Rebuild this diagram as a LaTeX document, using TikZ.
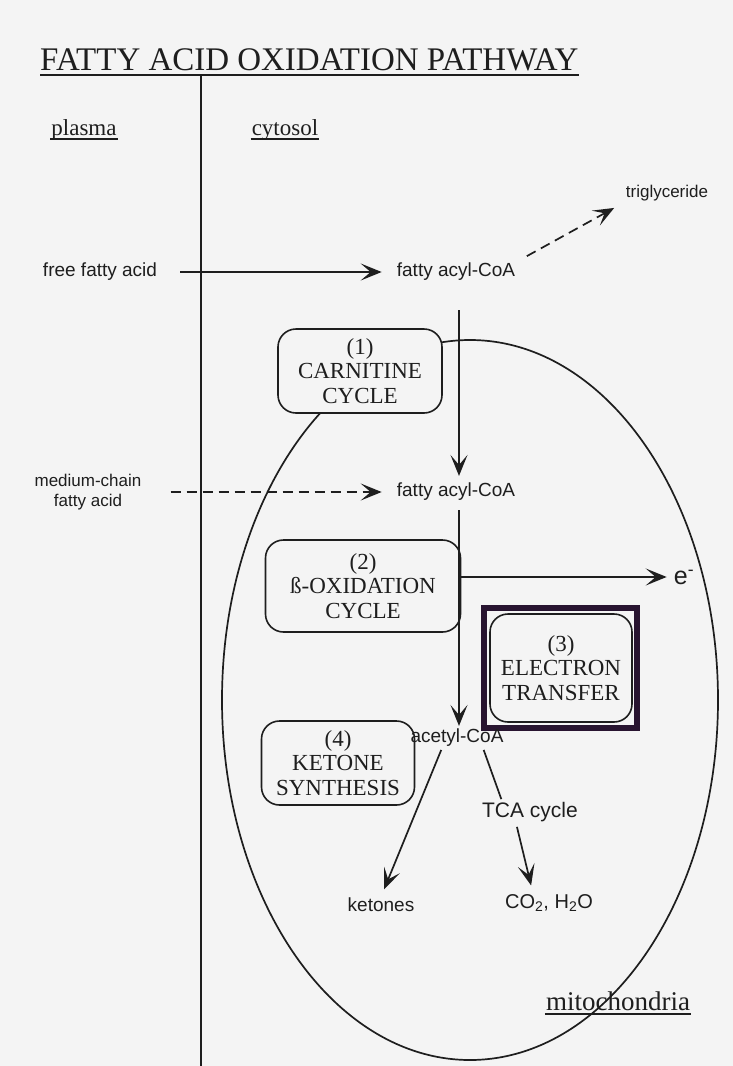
\documentclass[tikz,border=0pt]{standalone}
\usepackage{fontspec}
\setmainfont{Liberation Serif}
\setsansfont{Liberation Sans}
\usetikzlibrary{arrows.meta,calc}
\definecolor{ink}{RGB}{30,30,30}
\definecolor{bg}{RGB}{244,244,244}
\definecolor{framec}{RGB}{40,20,48}
\tikzset{
  lbl/.style={font=\sffamily\fontsize{19}{21}\selectfont, text=ink, inner sep=1pt},
  serlbl/.style={font=\rmfamily\fontsize{23}{25}\selectfont, text=ink, inner sep=1pt},
  stepbox/.style={draw=ink, line width=1.6pt, rounded corners=18pt, fill=bg, align=center,
     font=\rmfamily\fontsize{23}{24.5}\selectfont, text=ink, inner sep=2pt},
  arr/.style={draw=ink, line width=1.7pt, -{Stealth[length=21pt,width=17pt,inset=10pt]}},
  dasharr/.style={arr, dash pattern=on 10pt off 6pt},
  plain/.style={draw=ink, line width=1.7pt}
}
\begin{document}
\begin{tikzpicture}[x=1pt,y=-1pt]
\fill[bg] (0,0) rectangle (733,1066);
\useasboundingbox (0,0) rectangle (733,1066);

% title
\node[anchor=base west, inner sep=0pt, text=ink] (title) at (40,70)
  {\resizebox{538pt}{!}{\rmfamily FATTY ACID OXIDATION PATHWAY}};
\draw[plain, line width=1.5pt] ($(title.base west)+(0,5)$) -- ($(title.base east)+(0,5)$);

% membrane
\coordinate (memtop) at (201,75);
\coordinate (membot) at (201,1066);
\draw[plain] (memtop) -- (membot);

% compartments
\node[serlbl, anchor=base] (plasma) at (84,135) {plasma};
\draw[plain, line width=1.4pt] ($(plasma.base west)+(0,4)$) -- ($(plasma.base east)+(0,4)$);
\node[serlbl, anchor=base] (cytosol) at (285,135) {cytosol};
\draw[plain, line width=1.4pt] ($(cytosol.base west)+(0,4)$) -- ($(cytosol.base east)+(0,4)$);

% mitochondria outline
\draw[plain] (470,700) ellipse [x radius=248, y radius=360];
\node[serlbl, anchor=base, font=\rmfamily\fontsize{27}{29}\selectfont] (mito) at (618,1010) {mitochondria};
\draw[plain, line width=1.4pt] ($(mito.base west)+(0,4)$) -- ($(mito.base east)+(0,4)$);

% boxes
\node[stepbox, minimum width=164pt, minimum height=84pt] (b1) at (360,371) {(1)\\CARNITINE\\CYCLE};
\node[stepbox, minimum width=195pt, minimum height=92pt] (b2) at (363,586) {(2)\\ß-OXIDATION\\CYCLE};
\node[stepbox, minimum width=142pt, minimum height=108pt] (b3) at (561,668) {(3)\\ELECTRON\\TRANSFER};
\node[draw=framec, line width=6pt, minimum width=153pt, minimum height=120pt, inner sep=0pt] (frame3) at (560.5,668) {};
\node[stepbox, minimum width=153pt, minimum height=84pt] (b4) at (338,763) {(4)\\KETONE\\SYNTHESIS};

% metabolites
\node[lbl] (ffa) at (100,272) {free fatty acid};
\node[lbl] (fac1) at (456,272) {fatty acyl-CoA};
\node[lbl, font=\sffamily\fontsize{17}{19}\selectfont] (tg) at (667,193) {triglyceride};
\node[lbl, align=center, font=\sffamily\fontsize{17}{20}\selectfont] (mcfa) at (88,492) {medium-chain\\fatty acid};
\node[lbl] (fac2) at (456,492) {fatty acyl-CoA};
\node[lbl] (acoa) at (457,738) {acetyl-CoA};
\node[lbl, font=\sffamily\fontsize{25}{27}\selectfont] (el) at (684,577) {e\textsuperscript{-}};
\node[lbl, font=\sffamily\fontsize{21}{23}\selectfont] (tca) at (530,812) {TCA cycle};
\node[lbl] (ket) at (381,905) {ketones};
\node[lbl, font=\sffamily\fontsize{20}{22}\selectfont] (co2) at (549,903) {CO\textsubscript{2}, H\textsubscript{2}O};

% connectors
\draw[arr, shorten <=22pt, shorten >=14pt] (ffa.east) -- (fac1.west);
\draw[dasharr, shorten <=12pt, shorten >=12pt] (fac1.north east) -- (tg.south west);
\draw[dasharr, shorten <=28pt, shorten >=14pt] (mcfa.east |- fac2.west) -- (fac2.west);
\coordinate (v1s) at ($(fac1.south)+(3,28)$);
\coordinate (v1e) at ($(fac2.north)+(3,-6)$);
\draw[arr] (v1s) -- (v1e);
\coordinate (v2s) at ($(fac2.south)+(3,8)$);
\coordinate (v2e) at ($(acoa.north)+(2,-2)$);
\draw[arr] (v2s) -- (v2e);
\coordinate (ebr) at ($(v2s)!0.31!(v2e)$);
\draw[arr, shorten >=6pt] (ebr) -- (el.west |- ebr);
\draw[arr, shorten <=2pt, shorten >=8pt] ($(acoa.south)+(-15,0)$) -- (ket.north);
\draw[plain, shorten <=2pt, shorten >=2pt] ($(acoa.south)+(26,0)$) -- ($(tca.north)+(-28,0)$);
\draw[arr, shorten <=4pt, shorten >=8pt] ($(tca.south)+(-14,0)$) -- ($(co2.north)+(-16,0)$);
\end{tikzpicture}
\end{document}
